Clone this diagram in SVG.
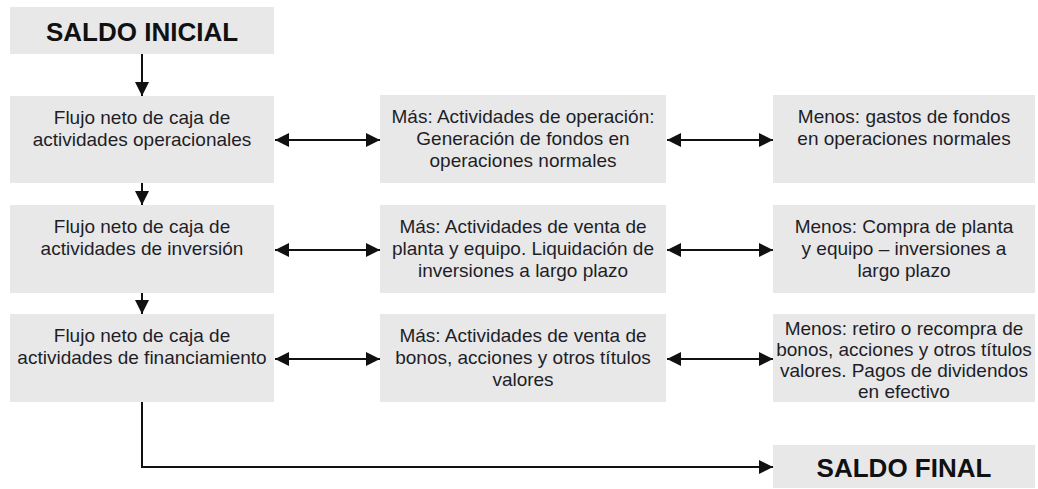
<svg xmlns="http://www.w3.org/2000/svg" width="1038" height="489" viewBox="0 0 1038 489">
<style>
.box{fill:#e8e8e8;}
.t{font-family:"Liberation Sans",Arial,sans-serif;font-size:19px;fill:#1e1e28;text-anchor:middle;}
.b{font-family:"Liberation Sans",Arial,sans-serif;font-size:26px;font-weight:bold;fill:#111;text-anchor:middle;}
.c{fill:none;stroke:#111;stroke-width:2;}
</style>
<defs>
<marker id="ah" markerUnits="userSpaceOnUse" markerWidth="14" markerHeight="14" refX="12" refY="6" orient="auto-start-reverse" viewBox="0 0 12 12">
<path d="M0,0 L12,6 L0,12 Z" fill="#111"/>
</marker>
</defs>
<rect width="1038" height="489" fill="#fff"/>
<g id="saldo-inicial"><rect class="box" x="10" y="7" width="264" height="47"/><text class="b" x="142" y="41">SALDO INICIAL</text></g>
<g id="flujo-oper"><rect class="box" x="10" y="96" width="264" height="87"/><text class="t" x="142" y="124">Flujo neto de caja de</text><text class="t" x="142" y="146">actividades operacionales</text></g>
<g id="mas-oper"><rect class="box" x="380" y="95" width="286" height="88"/><text class="t" x="523" y="123">Más: Actividades de operación:</text><text class="t" x="523" y="145">Generación de fondos en</text><text class="t" x="523" y="167">operaciones normales</text></g>
<g id="menos-oper"><rect class="box" x="773" y="95" width="262" height="88"/><text class="t" x="904" y="123">Menos: gastos de fondos</text><text class="t" x="904" y="145">en operaciones normales</text></g>
<g id="flujo-inv"><rect class="box" x="10" y="205" width="264" height="88"/><text class="t" x="142" y="233">Flujo neto de caja de</text><text class="t" x="142" y="255">actividades de inversión</text></g>
<g id="mas-inv"><rect class="box" x="380" y="205" width="286" height="88"/><text class="t" x="523" y="233">Más: Actividades de venta de</text><text class="t" x="523" y="255">planta y equipo. Liquidación de</text><text class="t" x="523" y="277">inversiones a largo plazo</text></g>
<g id="menos-inv"><rect class="box" x="773" y="205" width="262" height="88"/><text class="t" x="904" y="233">Menos: Compra de planta</text><text class="t" x="904" y="255">y equipo – inversiones a</text><text class="t" x="904" y="277">largo plazo</text></g>
<g id="flujo-fin"><rect class="box" x="10" y="314" width="264" height="88"/><text class="t" x="142" y="342">Flujo neto de caja de</text><text class="t" x="142" y="364">actividades de financiamiento</text></g>
<g id="mas-fin"><rect class="box" x="380" y="314" width="286" height="88"/><text class="t" x="523" y="342">Más: Actividades de venta de</text><text class="t" x="523" y="364">bonos, acciones y otros títulos</text><text class="t" x="523" y="386">valores</text></g>
<g id="menos-fin"><rect class="box" x="773" y="314" width="262" height="88"/><text class="t" x="904" y="335">Menos: retiro o recompra de</text><text class="t" x="904" y="356">bonos, acciones y otros títulos</text><text class="t" x="904" y="377">valores. Pagos de dividendos</text><text class="t" x="904" y="398">en efectivo</text></g>
<g id="saldo-final"><rect class="box" x="773" y="445" width="262" height="43"/><text class="b" x="904" y="477">SALDO FINAL</text></g>
<g id="connectors">
<line class="c" x1="142" y1="54" x2="142" y2="96" marker-end="url(#ah)"/>
<line class="c" x1="142" y1="183" x2="142" y2="205" marker-end="url(#ah)"/>
<line class="c" x1="142" y1="293" x2="142" y2="314" marker-end="url(#ah)"/>
<line class="c" x1="275" y1="140" x2="380" y2="140" marker-start="url(#ah)" marker-end="url(#ah)"/>
<line class="c" x1="667" y1="140" x2="773" y2="140" marker-start="url(#ah)" marker-end="url(#ah)"/>
<line class="c" x1="275" y1="250" x2="380" y2="250" marker-start="url(#ah)" marker-end="url(#ah)"/>
<line class="c" x1="667" y1="250" x2="773" y2="250" marker-start="url(#ah)" marker-end="url(#ah)"/>
<line class="c" x1="275" y1="359" x2="380" y2="359" marker-start="url(#ah)" marker-end="url(#ah)"/>
<line class="c" x1="667" y1="359" x2="773" y2="359" marker-start="url(#ah)" marker-end="url(#ah)"/>
<polyline class="c" points="142,402 142,467 773,467" marker-end="url(#ah)"/>
</g>
</svg>
